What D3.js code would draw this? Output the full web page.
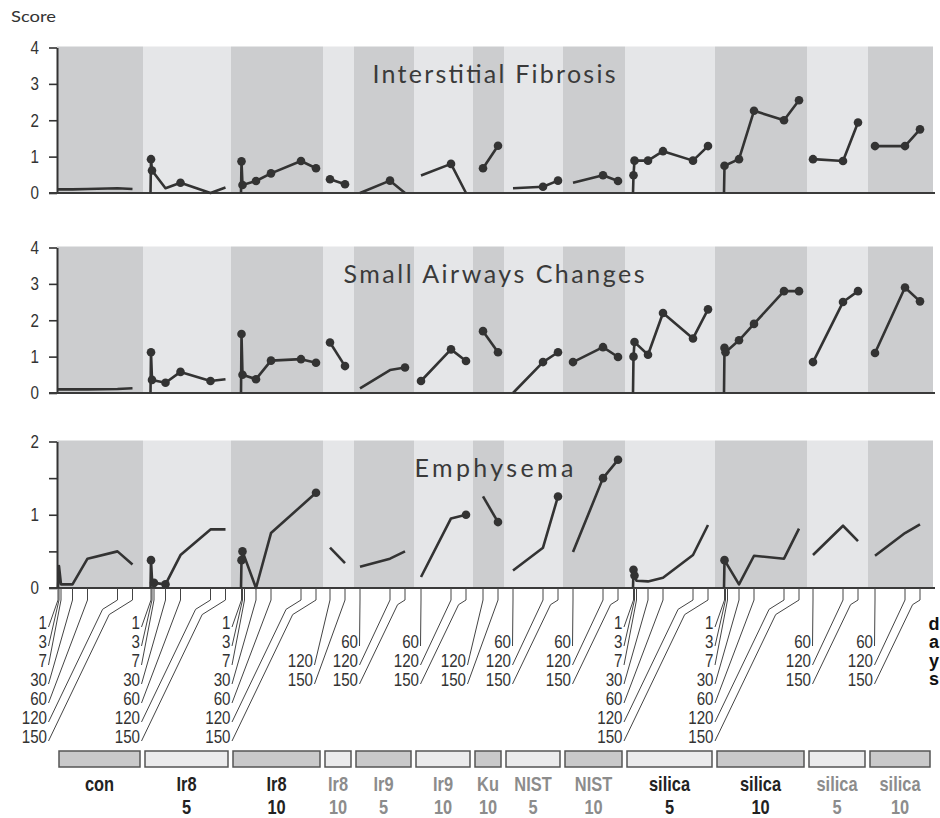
<!DOCTYPE html>
<html>
<head>
<meta charset="utf-8">
<script src="https://cdn.jsdelivr.net/npm/d3@7"></script>
<style>
  body { margin: 0; background: #fff; }
  svg text { fill: #333; }
</style>
</head>
<body>
<div id="chart"></div>
<script>
// groups (label line 1, line 2) and the days sampled in each group
const groupLine1 = ['con', 'Ir8', 'Ir8', 'Ir8', 'Ir9', 'Ir9', 'Ku', 'NIST', 'NIST', 'silica', 'silica', 'silica', 'silica'];
const groupLine2 = ['', '5', '10', '10', '5', '10', '10', '5', '10', '5', '10', '5', '10'];
const fullDays = [1, 3, 7, 30, 60, 120, 150];
const groupDays = [fullDays, fullDays, fullDays, [120, 150], [60, 120, 150], [60, 120, 150], [120, 150],
    [60, 120, 150], [60, 120, 150], fullDays, fullDays, [60, 120, 150], [60, 120, 150]];

// [day, score, marker]
const fibrosis = [
    [[1, 0.1], [3, 0.1], [7, 0.1], [30, 0.1], [60, 0.11], [120, 0.13], [150, 0.11]],
    [[0, 0], [1, 0.93, 1], [3, 0.62, 1], [30, 0.13], [60, 0.28, 1], [120, 0], [150, 0.15]],
    [[0, 0], [1, 0.87, 1], [3, 0.22, 1], [30, 0.33, 1], [60, 0.54, 1], [120, 0.88, 1], [150, 0.68, 1]],
    [[120, 0.38, 1], [150, 0.24, 1]],
    [[60, 0], [120, 0.34, 1], [150, 0]],
    [[60, 0.48], [120, 0.8, 1], [150, 0]],
    [[120, 0.68, 1], [150, 1.3, 1]],
    [[60, 0.13], [120, 0.17, 1], [150, 0.34, 1]],
    [[60, 0.28], [120, 0.49, 1], [150, 0.33, 1]],
    [[0, 0], [1, 0.49, 1], [3, 0.89, 1], [30, 0.89, 1], [60, 1.15, 1], [120, 0.89, 1], [150, 1.29, 1]],
    [[0, 0], [1, 0.75, 1], [30, 0.93, 1], [60, 2.26, 1], [120, 2.0, 1], [150, 2.55, 1]],
    [[60, 0.93, 1], [120, 0.88, 1], [150, 1.94, 1]],
    [[60, 1.29, 1], [120, 1.29, 1], [150, 1.75, 1]]
];
const airways = [
    [[1, 0.1], [3, 0.1], [7, 0.1], [30, 0.1], [60, 0.1], [120, 0.11], [150, 0.13]],
    [[0, 0], [1, 1.12, 1], [3, 0.36, 1], [30, 0.28, 1], [60, 0.58, 1], [120, 0.33, 1], [150, 0.38]],
    [[0, 0], [1, 1.62, 1], [3, 0.5, 1], [30, 0.38, 1], [60, 0.89, 1], [120, 0.93, 1], [150, 0.83, 1]],
    [[120, 1.39, 1], [150, 0.74, 1]],
    [[60, 0.13], [120, 0.63], [150, 0.7, 1]],
    [[60, 0.33, 1], [120, 1.2, 1], [150, 0.88, 1]],
    [[120, 1.7, 1], [150, 1.12, 1]],
    [[60, 0], [120, 0.85, 1], [150, 1.12, 1]],
    [[60, 0.85, 1], [120, 1.26, 1], [150, 0.99, 1]],
    [[0, 0], [1, 1.0, 1], [3, 1.4, 1], [30, 1.05, 1], [60, 2.2, 1], [120, 1.5, 1], [150, 2.3, 1]],
    [[0, 0], [1, 1.24, 1], [3, 1.12, 1], [30, 1.45, 1], [60, 1.9, 1], [120, 2.8, 1], [150, 2.8, 1]],
    [[60, 0.85, 1], [120, 2.5, 1], [150, 2.8, 1]],
    [[60, 1.1, 1], [120, 2.9, 1], [150, 2.52, 1]]
];
const emphysema = [
    [[1, 0], [3, 0.3], [7, 0.05], [30, 0.05], [60, 0.4], [120, 0.5], [150, 0.32]],
    [[0, 0], [1, 0.38, 1], [3, 0.12], [7, 0.07, 1], [30, 0.05, 1], [60, 0.45], [120, 0.8], [150, 0.8]],
    [[0, 0], [1, 0.38, 1], [3, 0.5, 1], [30, 0], [60, 0.75], [150, 1.3, 1]],
    [[120, 0.55], [150, 0.34]],
    [[60, 0.29], [120, 0.4], [150, 0.5]],
    [[60, 0.15], [120, 0.95], [150, 1.0, 1]],
    [[120, 1.25], [150, 0.9, 1]],
    [[60, 0.24], [120, 0.55], [150, 1.25, 1]],
    [[60, 0.49], [120, 1.5, 1], [150, 1.75, 1]],
    [[0, 0], [1, 0.25, 1], [3, 0.17, 1], [7, 0.1], [30, 0.09], [60, 0.14], [120, 0.45], [150, 0.86]],
    [[0, 0], [1, 0.38, 1], [30, 0.05], [60, 0.44], [120, 0.4], [150, 0.81]],
    [[60, 0.45], [120, 0.85], [150, 0.64]],
    [[60, 0.44], [120, 0.75], [150, 0.87]]
];

// layout of the day bands (in days)
const bandLead = [1, 15, 20, -106, -48, -46, -100, -42, -40, 16, 18, -48, -46];
const bandSpan = [172, 176, 184, 62, 120, 118, 62, 118, 124, 180, 184, 122, 130];
const mutedGroup = [0, 0, 0, 1, 1, 1, 1, 1, 1, 0, 0, 1, 1];
const labelRightDay = { 1: -21, 60: 56, 120: 86 };

const width = 940, height = 818;
const sans = '"Liberation Sans", Arial, sans-serif';
const geo = 'Lato, "Noto Sans", sans-serif';
const ink = '#333';
const squeeze = 0.82; // condensed look

const svg = d3.select('#chart').append('svg')
    .attr('width', width)
    .attr('height', height);

// condensed text at (x, y)
function narrowText(parent, x, y, txt, size, anchor) {
    return parent.append('text')
        .attr('transform', `translate(${x},${y}) scale(${squeeze},1)`)
        .attr('text-anchor', anchor)
        .style('font-family', sans)
        .style('font-size', size + 'px')
        .text(txt);
}

const bandStart = Array.from(d3.cumsum([0, ...bandSpan]));
const x = d3.scaleLinear().domain([0, d3.sum(bandSpan)]).range([57, 933]);
const dayX = (g, day) => x(bandStart[g] + bandLead[g] + day);

const panels = [
    { title: 'Interstitial Fibrosis', data: fibrosis, max: 4, top: 47.5, bottom: 193, ticks: [0, 1, 2, 3, 4], titleLen: 243 },
    { title: 'Small Airways Changes', data: airways, max: 4, top: 247.5, bottom: 393, ticks: [0, 1, 2, 3, 4], titleLen: 301 },
    { title: 'Emphysema', data: emphysema, max: 2, top: 441.5, bottom: 588, ticks: [0, 0.5, 1, 1.5, 2], titleLen: 159 }
];

svg.append('text')
    .attr('x', 11).attr('y', 22)
    .attr('textLength', 45).attr('lengthAdjust', 'spacingAndGlyphs')
    .style('font-family', geo).style('font-size', '16px')
    .text('Score');

panels.forEach(p => {
    const y = d3.scaleLinear().domain([0, p.max]).range([p.bottom, p.top]);
    const g = svg.append('g');

    // Hintergrundbänder
    g.selectAll('rect')
        .data(bandSpan)
        .enter().append('rect')
        .attr('x', (d, i) => x(bandStart[i]))
        .attr('width', (d, i) => x(bandStart[i] + d) - x(bandStart[i]))
        .attr('y', p.top - 1)
        .attr('height', p.bottom - p.top + 1)
        .attr('fill', (d, i) => i % 2 === 0 ? '#cccdcf' : '#e5e6e8');

    g.append('text')
        .attr('x', 494).attr('y', p.top + 35.5)
        .attr('text-anchor', 'middle')
        .attr('textLength', p.titleLen)
        .attr('lengthAdjust', 'spacing')
        .style('font-family', geo).style('font-size', '25px')
        .style('fill', '#3a3a3a')
        .text(p.title);

    // Achsen
    const axis = g.append('g')
        .attr('transform', 'translate(57,0)')
        .call(d3.axisLeft(y).tickValues(p.ticks).tickSize(8).tickSizeOuter(0).tickPadding(10)
            .tickFormat(d => Number.isInteger(d) ? d : ''));
    axis.select('.domain').attr('stroke', ink).attr('stroke-width', 2);
    axis.selectAll('.tick line').attr('stroke', ink).attr('stroke-width', 1.6);
    axis.selectAll('.tick text')
        .attr('x', -18 / squeeze)
        .attr('transform', `scale(${squeeze},1)`)
        .style('font-family', sans).style('font-size', '18.5px').style('fill', ink);

    g.append('line')
        .attr('x1', 49).attr('x2', 935)
        .attr('y1', p.bottom).attr('y2', p.bottom)
        .attr('stroke', '#3a3a3a').attr('stroke-width', 2);

    // Verläufe
    const line = d3.line();
    p.data.forEach((series, gi) => {
        g.append('path')
            .attr('d', line(series.map(d => [dayX(gi, d[0]), y(d[1])])))
            .attr('fill', 'none')
            .attr('stroke', ink)
            .attr('stroke-width', 2.6)
            .attr('stroke-linejoin', 'round');
        g.selectAll(null)
            .data(series.filter(d => d[2]))
            .enter().append('circle')
            .attr('cx', d => dayX(gi, d[0]))
            .attr('cy', d => y(d[1]))
            .attr('r', 4.3)
            .attr('fill', ink);
    });
});

// Tagesbeschriftungen mit Führungslinien
const axisY = panels[2].bottom;
const maxSlope = 0.48, flat = 0.625;
const lab = svg.append('g');
groupDays.forEach((days, gi) => {
    const rowStart = days.length === 7 ? 0 : 4 - days.length;
    const lx = dayX(gi, labelRightDay[days[0]]);
    days.forEach((day, i) => {
        const base = 628.5 + 19 * (rowStart + i);
        const tx = dayX(gi, day);
        const p1 = [tx, axisY + 12];
        const e = [lx + 1.5, base - 1.5];
        const pts = [[tx, axisY], p1];
        if ((tx - e[0]) / (e[1] - p1[1]) > maxSlope) {
            const ky = (p1[1] + flat * (tx - e[0]) - maxSlope * flat * e[1]) / (1 - maxSlope * flat);
            pts.push([e[0] + maxSlope * (e[1] - ky), ky]);
        }
        pts.push(e);
        lab.append('path')
            .attr('d', d3.line()(pts))
            .attr('fill', 'none')
            .attr('stroke', '#444')
            .attr('stroke-width', 1);
        narrowText(lab, lx, base, day, 18.5, 'end');
    });
});

['d', 'a', 'y', 's'].forEach((c, i) => {
    svg.append('text')
        .attr('x', 934).attr('y', 629.5 + 18.5 * i)
        .attr('text-anchor', 'middle')
        .style('font-family', sans).style('font-weight', 'bold')
        .style('font-size', '18px').style('fill', '#111')
        .text(c);
});

// Gruppenkästen unten
const boxes = svg.append('g');
bandSpan.forEach((span, gi) => {
    const x0 = x(bandStart[gi]) + 2, x1 = x(bandStart[gi] + span) - 3;
    const cx = (x0 + x1) / 2;
    boxes.append('rect')
        .attr('x', x0).attr('y', 751)
        .attr('width', x1 - x0).attr('height', 16)
        .attr('fill', gi % 2 === 0 ? '#c9c9ca' : '#ebebec')
        .attr('stroke', '#555').attr('stroke-width', 1.5);
    [groupLine1[gi], groupLine2[gi]].forEach((t, k) => {
        narrowText(boxes, cx, 791 + 23 * k, t, 20, 'middle')
            .style('font-weight', 'bold')
            .style('fill', mutedGroup[gi] ? '#8c8c8c' : '#222');
    });
});
</script>
</body>
</html>
